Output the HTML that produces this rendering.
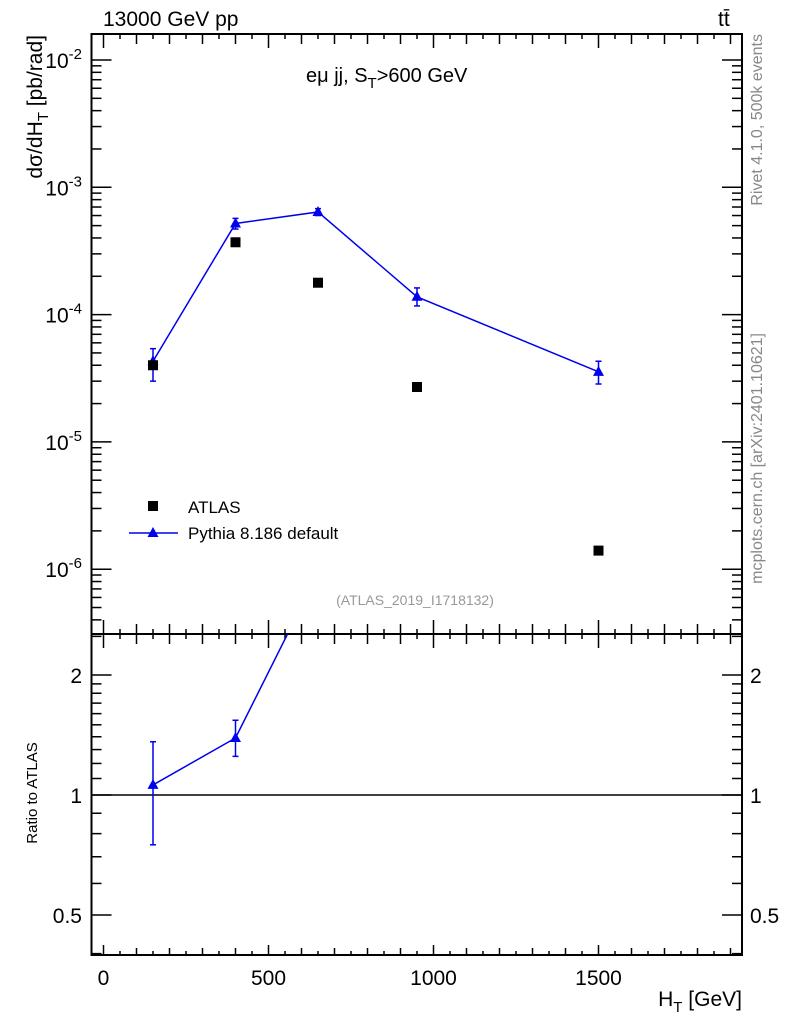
<!DOCTYPE html>
<html><head><meta charset="utf-8"><style>
body{margin:0;background:#fff;width:786px;height:1024px;overflow:hidden}
svg{display:block;font-family:"Liberation Sans",sans-serif}
</style></head><body>
<svg id="c" width="786" height="1024"></svg>
<script>
const htBins=[150,400,650,950,1500];
const atlasVals=[4.0e-5,3.7e-4,1.78e-4,2.7e-5,1.4e-6];
const pythiaVals=[4.3e-5,5.2e-4,6.4e-4,1.38e-4,3.55e-5];
const pythiaLo=[3.0e-5,4.7e-4,6.0e-4,1.17e-4,2.85e-5];
const pythiaHi=[5.4e-5,5.7e-4,6.8e-4,1.62e-4,4.3e-5];
const ratioVals=[1.06,1.39,3.6,5.1,25];
const ratioLo=[0.75,1.25,3.4,4.3,20];
const ratioHi=[1.36,1.54,3.8,6.0,30];
const xTicks=[0,500,1000,1500];
const yDecades=[-6,-5,-4,-3,-2];
const rTicks=[0.5,1,2];

const NS="http://www.w3.org/2000/svg",svg=document.getElementById('c');
const L=91.5,R=742,T=34,M=634,B=955;
const X=v=>103.5+(v/500)*165;
const Y=v=>60-(Math.log10(v)+2)*127.3;
const YR=v=>795-Math.log2(v)*120;
function el(t,a,p){const e=document.createElementNS(NS,t);for(const k in a)e.setAttribute(k,a[k]);(p||svg).appendChild(e);return e;}
function txt(s,x,y,a){const e=el('text',Object.assign({x:x,y:y,'font-size':20},a));e.textContent=s;return e;}
function line(x1,y1,x2,y2,a){return el('line',Object.assign({x1,y1,x2,y2,stroke:'#000','stroke-width':1.5},a||{}));}

const f1=el('rect',{x:L,y:T,width:R-L,height:M-T,fill:'none',stroke:'#000','stroke-width':2});

const f2=el('rect',{x:L,y:M,width:R-L,height:B-M,fill:'none',stroke:'#000','stroke-width':2});


for(let v=0;v<=1900;v+=50){const x=X(v);const maj=v%500===0;const l1=maj?14:(v%100===0?10:5);const l2=maj?10:(v%100===0?7:4);
 line(x,M,x,M-l1);line(x,M,x,M+l1);line(x,T,x,T+l1);line(x,B,x,B-l2);}
xTicks.forEach(v=>{const t=txt(String(v),X(v),985,{'text-anchor':'middle','font-size':21});});

for(let d=-7;d<=-2;d++){for(let m=1;m<10;m++){const v=m*Math.pow(10,d);const y=Y(v);if(y<T||y>M)continue;const len=m===1?20:10;line(L,y,L+len,y);line(R,y,R-len,y);}}
yDecades.forEach(d=>{const y=Y(Math.pow(10,d));const t=el('text',{x:82,y:y+8,'text-anchor':'end','font-size':21});
 t.innerHTML='10<tspan dy="-9" font-size="15">'+d+'</tspan>';});

[0.4,0.5,0.6,0.7,0.8,0.9,1,1.1,1.2,1.3,1.4,1.5,1.6,1.7,1.8,1.9,2,2.5].forEach(v=>{const y=YR(v);if(y<M||y>B)return;const maj=rTicks.includes(v);const len=maj?20:10;line(L,y,L+len,y);line(R,y,R-len,y);});
rTicks.forEach(v=>{const y=YR(v)+8;const a=txt(String(v),82,y,{'text-anchor':'end','font-size':21});
 const b=txt(String(v),750,y,{'font-size':21});});
const ref=line(L,YR(1),R,YR(1),{'stroke-width':1.5});

const cp=el('clipPath',{id:'cm'});el('rect',{x:L,y:T,width:R-L,height:M-T},cp);
const cr=el('clipPath',{id:'cr'});el('rect',{x:L,y:M,width:R-L,height:B-M},cr);
const gm=el('g',{'clip-path':'url(#cm)'});
const pl=el('polyline',{points:htBins.map((h,i)=>X(h)+','+Y(pythiaVals[i])).join(' '),fill:'none',stroke:'#0000ee','stroke-width':1.5},gm);

htBins.forEach((h,i)=>{const x=X(h);
 const e=line(x,Y(pythiaLo[i]),x,Y(pythiaHi[i]),{stroke:'#0000ee'});gm.appendChild(e);
 [pythiaLo[i],pythiaHi[i]].forEach(v=>gm.appendChild(line(x-3,Y(v),x+3,Y(v),{stroke:'#0000ee'})));
 const y=Y(pythiaVals[i]);const m=el('polygon',{points:`${x},${y-6} ${x-5.5},${y+4} ${x+5.5},${y+4}`,fill:'#0000ee'},gm);
 
 const a=el('rect',{x:X(h)-5,y:Y(atlasVals[i])-5,width:10,height:10,fill:'#000'},gm);
 });

const gr=el('g',{'clip-path':'url(#cr)'});
const rl=el('polyline',{points:htBins.map((h,i)=>X(h)+','+YR(ratioVals[i])).join(' '),fill:'none',stroke:'#0000ee','stroke-width':1.5},gr);

htBins.forEach((h,i)=>{const x=X(h);gr.appendChild(line(x,YR(ratioLo[i]),x,YR(ratioHi[i]),{stroke:'#0000ee'}));
 [ratioLo[i],ratioHi[i]].forEach(v=>gr.appendChild(line(x-3,YR(v),x+3,YR(v),{stroke:'#0000ee'})));
 const y=YR(ratioVals[i]);const m=el('polygon',{points:`${x},${y-6} ${x-5.5},${y+4} ${x+5.5},${y+4}`,fill:'#0000ee'},gr);
 });

let g=el('rect',{x:148,y:501,width:10,height:10,fill:'#000'});
g=txt('ATLAS',188,513,{'font-size':17});
g=line(129,533,178,533,{stroke:'#0000ee'});
g=el('polygon',{points:'153,527 147.5,537 158.5,537',fill:'#0000ee'});
g=txt('Pythia 8.186 default',188,539,{'font-size':17});

g=txt('13000 GeV pp',103,26,{'font-size':21});
g=txt('tt̄',718,26,{'font-size':21});
g=el('text',{x:306,y:82,'font-size':20});g.innerHTML='eμ jj, S<tspan dy="6" font-size="15">T</tspan><tspan dy="-6">&gt;600 GeV</tspan>';
g=txt('(ATLAS_2019_I1718132)',415,605,{'font-size':14,fill:'#999','text-anchor':'middle'});
g=el('text',{x:0,y:0,'font-size':21,'text-anchor':'end',transform:'translate(42,35) rotate(-90)'});g.innerHTML='dσ/dH<tspan dy="6" font-size="15">T</tspan><tspan dy="-6"> [pb/rad]</tspan>';
g=el('text',{x:0,y:0,'font-size':15,'text-anchor':'middle',transform:'translate(37,793) rotate(-90)'});g.textContent='Ratio to ATLAS';
g=el('text',{x:742,y:1006,'font-size':21,'text-anchor':'end'});g.innerHTML='H<tspan dy="6" font-size="15">T</tspan><tspan dy="-6"> [GeV]</tspan>';
g=el('text',{x:0,y:0,'font-size':16,fill:'#888','text-anchor':'end','xml:space':'preserve',transform:'translate(762,34) rotate(-90)'});g.textContent='Rivet 4.1.0,  500k events';
g=el('text',{x:0,y:0,'font-size':16,fill:'#888','text-anchor':'end',transform:'translate(762,333) rotate(-90)'});g.textContent='mcplots.cern.ch [arXiv:2401.10621]';
</script>
</body></html>
